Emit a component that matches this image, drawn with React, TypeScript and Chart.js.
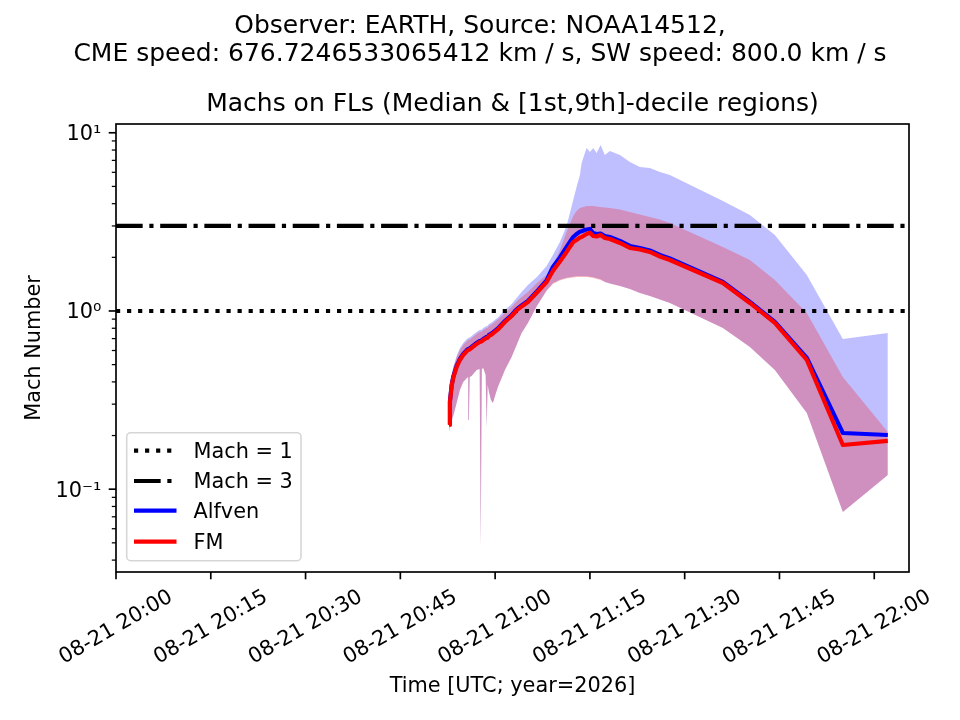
import { useEffect, useRef } from 'react';
import { Chart, registerables } from 'chart.js';

Chart.register(...registerables);

// minutes after 08-21 20:00 UTC
const TIME_MIN = [
  52.74, 52.85, 53.12, 53.37, 53.91, 54.43, 54.95, 55.54, 55.74, 55.85,
  55.98, 56.28, 57.07, 57.55, 57.72, 57.9, 58.12, 58.5, 58.66, 58.82,
  59.02, 59.34, 59.65, 60.13, 60.44, 61.55, 62.61, 63.4, 64.19, 65.19,
  66.61, 68.15, 69.14, 70.25, 71.31, 72.36, 72.89, 73.42, 73.69, 74.21,
  74.48, 75.0, 75.52, 76.06, 76.69, 77.37, 78.16, 79.75, 81.33, 82.91,
  84.49, 86.08, 87.66, 96.05, 100.32, 104.27, 109.33, 115.03, 122.15,
];

const ALFVEN_MEDIAN = [
  0.2322, 0.3126, 0.3843, 0.4262, 0.4913, 0.5378, 0.5737, 0.6042, 0.6121, 0.6121,
  0.6161, 0.6281, 0.6614, 0.6788, 0.6815, 0.685, 0.6965, 0.71, 0.7146, 0.7173,
  0.7333, 0.7429, 0.7574, 0.7822, 0.7977, 0.8788, 0.9496, 1.0196, 1.0737, 1.1379,
  1.2866, 1.4832, 1.7659, 1.9963, 2.2864, 2.6019, 2.7047, 2.7861, 2.8008, 2.8487,
  2.8674, 2.886, 2.7398, 2.7047, 2.7222, 2.6358, 2.6019, 2.4707, 2.3165, 2.2569,
  2.1853, 2.0621, 1.9707, 1.4548, 1.1232, 0.8676, 0.5448, 0.2067, 0.2014,
];

const FM_MEDIAN = [
  0.2292, 0.3086, 0.3795, 0.4207, 0.485, 0.5309, 0.5663, 0.5964, 0.6042, 0.6042,
  0.6081, 0.6201, 0.6529, 0.6699, 0.6726, 0.6761, 0.6874, 0.7009, 0.7054, 0.7082,
  0.7239, 0.7333, 0.7477, 0.7722, 0.7875, 0.8676, 0.9375, 1.0065, 1.0598, 1.1232,
  1.27, 1.4548, 1.6768, 1.8957, 2.1435, 2.4389, 2.5027, 2.5852, 2.6019, 2.67,
  2.7047, 2.7505, 2.6358, 2.6189, 2.67, 2.5681, 2.5351, 2.4077, 2.2569, 2.2136,
  2.1435, 2.0222, 1.9328, 1.4359, 1.1089, 0.8564, 0.5309, 0.177, 0.1865,
];

// 1st decile
const ALFVEN_LOW = [
  0.2094, 0.2205, 0.2445, 0.2575, 0.3046, 0.3602, 0.3996, 0.4207, 0.4262, 0.2445,
  0.4262, 0.4317, 0.4665, 0.4726, 0.0468, 0.4726, 0.4787, 0.4374, 0.2205, 0.3843,
  0.351, 0.3166, 0.3046, 0.3467, 0.3745, 0.4665, 0.5519, 0.6445, 0.7524, 0.8564,
  1.0668, 1.308, 1.432, 1.498, 1.537, 1.557, 1.567, 1.567, 1.567, 1.567,
  1.567, 1.557, 1.547, 1.527, 1.508, 1.4548, 1.4266, 1.3813, 1.3289, 1.2618,
  1.2137, 1.1601, 1.1089, 0.8028, 0.6281, 0.4665, 0.2677, 0.0745, 0.1202,
];

// 9th decile
const ALFVEN_HIGH = [
  0.2542, 0.3467, 0.4374, 0.485, 0.5592, 0.6201, 0.6614, 0.6965, 0.7054, 0.7054,
  0.71, 0.7239, 0.7625, 0.7822, 0.785, 0.788, 0.8028, 0.8185, 0.8239, 0.8271,
  0.8455, 0.8564, 0.8732, 0.9018, 0.9194, 1.013, 1.0946, 1.183, 1.2785, 1.3993,
  1.5518, 1.7886, 2.0621, 2.4389, 2.9992, 4.1966, 4.9649, 5.7978, 6.7686, 7.7036,
  8.2171, 7.8037, 8.2171, 7.7036, 8.542, 7.5074, 7.9054, 7.5074, 6.8563, 6.4296,
  6.3472, 6.0256, 5.7978, 4.1428, 3.4575, 2.67, 1.5922, 0.6965, 0.7524,
];

const FM_LOW = [
  0.2094, 0.2205, 0.2445, 0.2575, 0.3046, 0.3602, 0.3996, 0.4207, 0.4262, 0.2445,
  0.4262, 0.4317, 0.4665, 0.4726, 0.0468, 0.4726, 0.4787, 0.4374, 0.2205, 0.3843,
  0.351, 0.3166, 0.3046, 0.3467, 0.3745, 0.4665, 0.5519, 0.6445, 0.7524, 0.8564,
  1.0668, 1.295, 1.4177, 1.4832, 1.522, 1.5417, 1.5518, 1.5518, 1.5518, 1.5518,
  1.5518, 1.5417, 1.5318, 1.5122, 1.4928, 1.4548, 1.4266, 1.3813, 1.3289, 1.2618,
  1.2137, 1.1601, 1.1089, 0.8028, 0.6281, 0.4665, 0.2677, 0.0745, 0.1202,
];

const FM_HIGH = [
  0.251, 0.3422, 0.4317, 0.4787, 0.5519, 0.6042, 0.6445, 0.6788, 0.6874, 0.6874,
  0.6919, 0.7054, 0.7429, 0.7625, 0.765, 0.768, 0.7822, 0.7977, 0.8028, 0.8059,
  0.8239, 0.8345, 0.8509, 0.8788, 0.896, 0.9745, 1.053, 1.1306, 1.1984, 1.2785,
  1.4359, 1.5922, 1.8119, 2.1992, 2.7752, 3.4129, 3.6413, 3.7844, 3.809, 3.8583,
  3.8834, 3.8834, 3.8834, 3.8583, 3.8336, 3.809, 3.7844, 3.7125, 3.5946, 3.48,
  3.3696, 3.2624, 3.1177, 2.2864, 1.9328, 1.4928, 0.9745, 0.4262, 0.2094,
];

const MACH_LEVELS = [1, 3];
const LEGEND_LABELS = ['Mach = 1', 'Mach = 3', 'Alfven', 'FM'];

const X_RANGE = [0, 125.5];
const Y_RANGE = [0.0343, 11.2];
const X_TICKS = [0, 15, 30, 45, 60, 75, 90, 105, 120];
const X_TICK_LABELS = [
  '08-21 20:00', '08-21 20:15', '08-21 20:30', '08-21 20:45', '08-21 21:00',
  '08-21 21:15', '08-21 21:30', '08-21 21:45', '08-21 22:00',
];
const Y_TICKS = [0.1, 1, 10];
const Y_TICK_LABELS = ['10⁻¹', '10⁰', '10¹'];
const Y_MINOR_TICKS = [
  0.04, 0.05, 0.06, 0.07, 0.08, 0.09,
  0.2, 0.3, 0.4, 0.5, 0.6, 0.7, 0.8, 0.9,
  2, 3, 4, 5, 6, 7, 8, 9,
];

const SUPTITLE = [
  'Observer: EARTH, Source: NOAA14512,',
  'CME speed: 676.7246533065412 km / s, SW speed: 800.0 km / s',
];
const TITLE = 'Machs on FLs (Median & [1st,9th]-decile regions)';
const X_LABEL = 'Time [UTC; year=2026]';
const Y_LABEL = 'Mach Number';

const FONT = '"DejaVu Sans", sans-serif';
const FS = 20.83; // 10pt @150dpi
const TITLE_FS = 25;
const LW = 4.17; // 2pt
const DOTTED = [4.17, 6.88];
const DASHDOT = [26.67, 6.67, 4.17, 6.67];

const pts = (ys: number[]) => TIME_MIN.map((t, i) => ({ x: t, y: ys[i] }));
const hline = (v: number) => [{ x: X_RANGE[0], y: v }, { x: X_RANGE[1], y: v }];

// 轴刻度、标题、图例都在这里画
const decorPlugin = {
  id: 'decor',
  afterDraw(chart: any) {
    const ctx: CanvasRenderingContext2D = chart.ctx;
    const { left, right, top, bottom } = chart.chartArea;
    const xs = chart.scales.x;
    const ys = chart.scales.y;
    ctx.save();
    ctx.strokeStyle = '#000';
    ctx.fillStyle = '#000';

    const seg = (x1: number, y1: number, x2: number, y2: number) => {
      ctx.beginPath();
      ctx.moveTo(x1, y1);
      ctx.lineTo(x2, y2);
      ctx.stroke();
    };

    // tick marks
    ctx.lineWidth = 1.67;
    X_TICKS.forEach(v => {
      const px = xs.getPixelForValue(v);
      seg(px, bottom, px, bottom + 7.3);
    });
    Y_TICKS.forEach(v => {
      const py = ys.getPixelForValue(v);
      seg(left, py, left - 7.3, py);
    });
    ctx.lineWidth = 1.25;
    Y_MINOR_TICKS.forEach(v => {
      const py = ys.getPixelForValue(v);
      seg(left, py, left - 4.2, py);
    });

    // frame
    ctx.lineWidth = 1.67;
    ctx.strokeRect(left, top, right - left, bottom - top);

    // rotated x tick labels, centred under the tick
    const ang = Math.PI / 6;
    ctx.font = `${FS}px ${FONT}`;
    ctx.textAlign = 'center';
    ctx.textBaseline = 'alphabetic';
    X_TICKS.forEach((v, i) => {
      const label = X_TICK_LABELS[i];
      const w = ctx.measureText(label).width;
      const h = FS * 0.99;
      const H = w * Math.sin(ang) + h * Math.cos(ang);
      ctx.save();
      ctx.translate(xs.getPixelForValue(v), bottom + 14.6 + H / 2);
      ctx.rotate(-ang);
      ctx.fillText(label, 0, h / 2 - 0.23 * FS);
      ctx.restore();
    });

    // axis labels
    ctx.fillText(X_LABEL, (left + right) / 2, 692);
    ctx.save();
    ctx.translate(39.5, (top + bottom) / 2);
    ctx.rotate(-Math.PI / 2);
    ctx.fillText(Y_LABEL, 0, 0);
    ctx.restore();

    // titles
    ctx.font = `${TITLE_FS}px ${FONT}`;
    ctx.fillText(SUPTITLE[0], chart.width / 2, 33.3);
    ctx.fillText(SUPTITLE[1], chart.width / 2, 61);
    ctx.fillText(TITLE, (left + right) / 2, 111);

    // legend
    const bx = 126.7, by = 432.7, bw = 174.3, bh = 128, r = 4;
    ctx.beginPath();
    ctx.moveTo(bx + r, by);
    ctx.arcTo(bx + bw, by, bx + bw, by + bh, r);
    ctx.arcTo(bx + bw, by + bh, bx, by + bh, r);
    ctx.arcTo(bx, by + bh, bx, by, r);
    ctx.arcTo(bx, by, bx + bw, by, r);
    ctx.closePath();
    ctx.fillStyle = 'rgba(255,255,255,0.8)';
    ctx.fill();
    ctx.strokeStyle = 'rgba(204,204,204,0.8)';
    ctx.lineWidth = 1.6;
    ctx.stroke();

    const rows = [450.7, 481, 510.7, 541.7];
    const styles = [
      { color: '#000', dash: DOTTED },
      { color: '#000', dash: DASHDOT },
      { color: '#0000ff', dash: [] as number[] },
      { color: '#ff0000', dash: [] as number[] },
    ];
    ctx.font = `${FS}px ${FONT}`;
    ctx.textAlign = 'left';
    rows.forEach((ry, i) => {
      ctx.strokeStyle = styles[i].color;
      ctx.lineWidth = LW;
      ctx.lineCap = 'butt';
      ctx.setLineDash(styles[i].dash);
      seg(134, ry, 176.5, ry);
      ctx.setLineDash([]);
      ctx.fillStyle = '#000';
      ctx.fillText(LEGEND_LABELS[i], 193.5, ry + 7.3);
    });
    ctx.restore();
  },
};

export default function App() {
  const canvasRef = useRef<HTMLCanvasElement>(null);

  useEffect(() => {
    if (!canvasRef.current) return;
    Chart.defaults.font.family = FONT;

    const band = { borderWidth: 0, borderColor: 'rgba(0,0,0,0)', pointRadius: 0 };

    const chart = new Chart(canvasRef.current, {
      type: 'line',
      data: {
        datasets: [
          { ...band, label: 'alfven-low', data: pts(ALFVEN_LOW), fill: false, order: 10 },
          { ...band, label: 'alfven-high', data: pts(ALFVEN_HIGH), fill: '-1', backgroundColor: 'rgba(0,0,255,0.25)', order: 9 },
          { ...band, label: 'fm-low', data: pts(FM_LOW), fill: false, order: 8 },
          { ...band, label: 'fm-high', data: pts(FM_HIGH), fill: '-1', backgroundColor: 'rgba(255,0,0,0.25)', order: 7 },
          {
            label: LEGEND_LABELS[0], data: hline(MACH_LEVELS[0]), borderColor: '#000', borderWidth: LW,
            borderDash: DOTTED, borderCapStyle: 'butt', pointRadius: 0, fill: false, order: 4,
          },
          {
            label: LEGEND_LABELS[1], data: hline(MACH_LEVELS[1]), borderColor: '#000', borderWidth: LW,
            borderDash: DASHDOT, borderCapStyle: 'butt', pointRadius: 0, fill: false, order: 3,
          },
          {
            label: LEGEND_LABELS[2], data: pts(ALFVEN_MEDIAN), borderColor: '#0000ff', borderWidth: LW,
            borderJoinStyle: 'round', pointRadius: 0, fill: false, order: 2,
          },
          {
            label: LEGEND_LABELS[3], data: pts(FM_MEDIAN), borderColor: '#ff0000', borderWidth: LW,
            borderJoinStyle: 'round', pointRadius: 0, fill: false, order: 1,
          },
        ],
      },
      options: {
        responsive: false,
        animation: false,
        events: [],
        layout: { padding: { left: 0, top: 124, right: 51, bottom: 0 } },
        elements: { line: { tension: 0 } },
        plugins: {
          legend: { display: false },
          tooltip: { enabled: false },
          title: { display: false },
        },
        scales: {
          x: {
            type: 'linear',
            min: X_RANGE[0],
            max: X_RANGE[1],
            grid: { display: false, drawTicks: false },
            border: { display: false },
            ticks: { display: false },
            afterFit: (s: any) => { s.height = 148; },
          },
          y: {
            type: 'logarithmic',
            min: Y_RANGE[0],
            max: Y_RANGE[1],
            grid: { display: false, drawTicks: false },
            border: { display: false },
            afterBuildTicks: (s: any) => {
              s.ticks = Y_TICKS.map(v => ({ value: v, major: true }));
            },
            afterFit: (s: any) => { s.width = 116; },
            ticks: {
              autoSkip: false,
              padding: 14.6,
              labelOffset: 2,
              color: '#000',
              font: { size: FS, family: FONT },
              callback: (v: any) => {
                const i = Y_TICKS.indexOf(Number(v));
                return i >= 0 ? Y_TICK_LABELS[i] : '';
              },
            },
          },
        },
      },
      plugins: [decorPlugin],
    });

    return () => chart.destroy();
  }, []);

  return (
    <div style={{ position: 'absolute', left: 0, top: 0, width: 960, height: 720, background: '#fff' }}>
      <canvas ref={canvasRef} width={960} height={720} style={{ display: 'block' }} />
    </div>
  );
}
